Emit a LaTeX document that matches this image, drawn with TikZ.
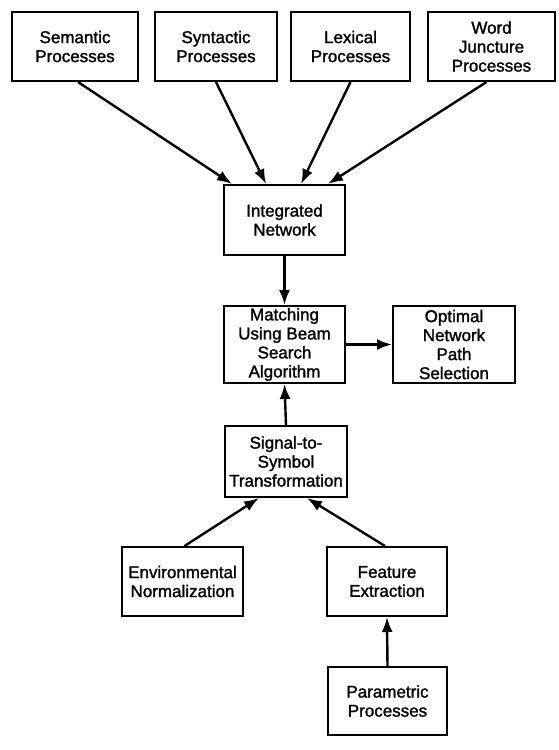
\documentclass[tikz,border=0pt]{standalone}
\usepackage{fontspec}
\setmainfont{Liberation Sans}[FakeBold=1.5]
\usetikzlibrary{arrows.meta}
\tikzset{
  box/.style={draw,line width=2pt,inner sep=0pt,align=center,
    font=\fontsize{17}{19}\selectfont},
  conn/.style={draw,line width=2.4pt,-{Latex[length=15pt,width=11pt]}}}
\begin{document}
\begin{tikzpicture}[x=1pt,y=-1pt]
\useasboundingbox (0,0) rectangle (559,750);
\node[box,minimum width=126,minimum height=69] (sem) at (75,46.5) {Semantic\\Processes};
\node[box,minimum width=122,minimum height=69] (syn) at (216,46.5) {Syntactic\\Processes};
\node[box,minimum width=119,minimum height=69] (lex) at (350.5,46.5) {Lexical\\Processes};
\node[box,minimum width=127,minimum height=69] (word) at (491.5,46.5) {Word\\Juncture\\Processes};
\node[box,minimum width=121,minimum height=70] (int) at (284.5,220) {Integrated\\Network};
\node[box,minimum width=121,minimum height=77] (match) at (284.5,344.5) {Matching\\Using Beam\\Search\\Algorithm};
\node[box,minimum width=122,minimum height=77] (opt) at (454,344.5) {Optimal\\Network\\Path\\Selection};
\node[box,minimum width=122,minimum height=71] (sig) at (286,461.5) {Signal-to-\\Symbol\\Transformation};
\node[box,minimum width=121,minimum height=69] (env) at (182.5,581.5) {Environmental\\Normalization};
\node[box,minimum width=120,minimum height=69] (feat) at (387,581.5) {Feature\\Extraction};
\node[box,minimum width=119,minimum height=68] (par) at (387.5,701) {Parametric\\Processes};
\path[conn] ([xshift=3pt]sem.south) -- ([xshift=9pt]int.north west);
\path[conn] (syn.south) -- ([xshift=43pt]int.north west);
\path[conn] (lex.south) -- ([xshift=78pt]int.north west);
\path[conn] ([xshift=-5pt]word.south) -- ([xshift=-18pt]int.north east);
\path[conn] (int.south) -- (match.north);
\path[conn] (match.east) -- (opt.west);
\path[conn] (sig.north) -- (match.south);
\path[conn] ([xshift=2pt]env.north) -- ([xshift=35pt]sig.south west);
\path[conn] ([xshift=-2pt]feat.north) -- ([xshift=83pt]sig.south west);
\path[conn] (par.north) -- (feat.south);
\end{tikzpicture}
\end{document}
